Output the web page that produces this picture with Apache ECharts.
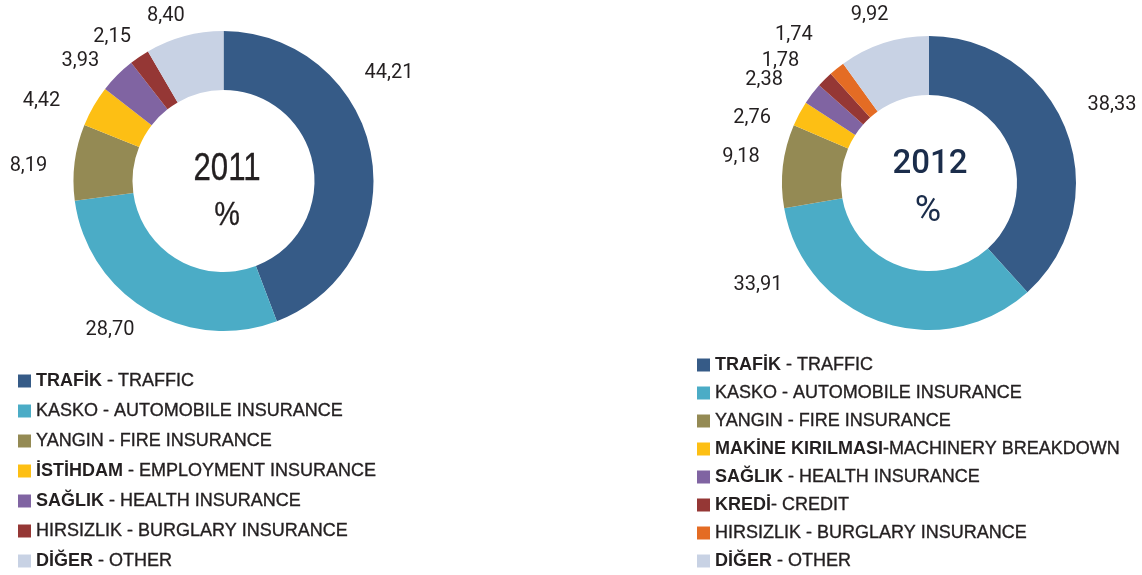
<!DOCTYPE html>
<html>
<head>
<meta charset="utf-8">
<script src="https://cdn.jsdelivr.net/npm/echarts@6/dist/echarts.min.js"></script>
<style>
html,body{margin:0;padding:0;background:#fff;}
#chart{width:1142px;height:575px;}
</style>
</head>
<body>
<div id="chart"></div>
<script>
// ---- data ----
const YEARS = ['2011', '2012'];

const NAMES_2011 = [
  'TRAFİK - TRAFFIC',
  'KASKO - AUTOMOBILE INSURANCE',
  'YANGIN - FIRE INSURANCE',
  'İSTİHDAM - EMPLOYMENT INSURANCE',
  'SAĞLIK - HEALTH INSURANCE',
  'HIRSIZLIK - BURGLARY INSURANCE',
  'DİĞER - OTHER'
];
const BOLD_2011 = ['TRAFİK', '', '', 'İSTİHDAM', 'SAĞLIK', '', 'DİĞER'];
const VALUES_2011 = [44.21, 28.70, 8.19, 4.42, 3.93, 2.15, 8.40];

const NAMES_2012 = [
  'TRAFİK - TRAFFIC',
  'KASKO - AUTOMOBILE INSURANCE',
  'YANGIN - FIRE INSURANCE',
  'MAKİNE KIRILMASI-MACHINERY BREAKDOWN',
  'SAĞLIK - HEALTH INSURANCE',
  'KREDİ- CREDIT',
  'HIRSIZLIK - BURGLARY INSURANCE',
  'DİĞER - OTHER'
];
const BOLD_2012 = ['TRAFİK', '', '', 'MAKİNE KIRILMASI', 'SAĞLIK', 'KREDİ', '', 'DİĞER'];
const VALUES_2012 = [38.33, 33.91, 9.18, 2.76, 2.38, 1.78, 1.74, 9.92];

// ---- styles ----
const COLORS_2011 = ['#365b87', '#4bacc6', '#948a54', '#fdbf14', '#8064a2', '#953735', '#c8d2e4'];
const COLORS_2012 = ['#365b87', '#4bacc6', '#948a54', '#fdbf14', '#8064a2', '#953735', '#e46c24', '#c8d2e4'];

const PIE_CENTER = [[223.5, 181], [929, 183]];
const PIE_RADIUS = [[91, 150], [88, 147]];
// label placement: angular tweak from slice middle (deg) and distance from centre (px)
const LABEL_ADJ = [[-22.7, 6.5, -2.9, -6.2, -5, -3.6, -4.1],
                   [-2.1, 40.2, 1.3, -7.8, -5.3, -5.4, -3.5, -1.6]];
const LABEL_DIST = [[197.6, 187.3, 195.6, 198.8, 186.7, 182, 175.2],
                    [199, 199, 189.8, 188.6, 194.5, 192.2, 200.7, 178.2]];

const TXT = '#231f20';
const LEGEND_FONT = "'Liberation Sans', Arial, sans-serif";

const ALL_VALUES = [VALUES_2011, VALUES_2012];

function labelPos(s, i) {
  const vals = ALL_VALUES[s];
  const total = vals.reduce((a, b) => a + b, 0);
  let cum = 0;
  for (let k = 0; k < i; k++) cum += vals[k];
  const mid = (cum + vals[i] / 2) / total * 360 + LABEL_ADJ[s][i];
  const r = mid * Math.PI / 180;
  const c = PIE_CENTER[s];
  return [c[0] + LABEL_DIST[s][i] * Math.sin(r), c[1] - LABEL_DIST[s][i] * Math.cos(r)];
}

function buildData(names, values, colors) {
  return names.map((n, i) => ({ name: n, value: values[i], itemStyle: { color: colors[i] } }));
}

function legendFormatter(names, bolds) {
  return function (name) {
    const i = names.indexOf(name);
    const b = bolds[i];
    if (b) return '{b|' + b + '}{r|' + name.slice(b.length) + '}';
    return '{r|' + name + '}';
  };
}

function makeLegend(names, colors, bolds, left, top, gap) {
  return {
    orient: 'vertical',
    left: left,
    top: top,
    padding: 0,
    itemWidth: 13,
    itemHeight: 13,
    itemGap: gap,
    icon: 'rect',
    selectedMode: false,
    data: names.map((n, i) => ({ name: n, itemStyle: { color: colors[i] } })),
    formatter: legendFormatter(names, bolds),
    textStyle: {
      fontSize: 18,
      lineHeight: 20,
      fontFamily: LEGEND_FONT,
      color: TXT,
      rich: {
        b: { fontFamily: LEGEND_FONT, fontWeight: 'bold', fontSize: 18, color: TXT, lineHeight: 20 },
        r: { fontFamily: LEGEND_FONT, fontWeight: 'normal', fontSize: 18, color: TXT, lineHeight: 20,
             textBorderColor: TXT, textBorderWidth: 0.35 }
      }
    }
  };
}

function makePie(s, names, values, colors) {
  return {
    type: 'pie',
    center: PIE_CENTER[s],
    radius: PIE_RADIUS[s],
    startAngle: 90,
    clockwise: true,
    avoidLabelOverlap: false,
    silent: true,
    data: buildData(names, values, colors),
    label: {
      show: true,
      position: 'outside',
      fontFamily: 'Roboto',
      fontSize: 20,
      color: TXT,
      formatter: p => p.value.toFixed(2).replace('.', ',')
    },
    labelLine: { show: false },
    labelLayout: function (params) {
      const p = labelPos(s, params.dataIndex);
      return { x: p[0], y: p[1], align: 'center', verticalAlign: 'middle' };
    },
    emphasis: { disabled: true }
  };
}

const chart = echarts.init(document.getElementById('chart'), null, { renderer: 'canvas' });
chart.setOption({
  backgroundColor: '#ffffff',
  animation: false,
  legend: [
    makeLegend(NAMES_2011, COLORS_2011, BOLD_2011, 18, 371, 10),
    makeLegend(NAMES_2012, COLORS_2012, BOLD_2012, 697, 355, 8)
  ],
  graphic: [
    { type: 'text', x: 227, y: 169, scaleX: 0.8, style: { text: YEARS[0], align: 'center', verticalAlign: 'middle', fontFamily: "'Liberation Sans', sans-serif", fontSize: 39, fill: TXT, stroke: TXT, lineWidth: 0.35 } },
    { type: 'text', x: 227, y: 216, scaleX: 0.85, style: { text: '%', align: 'center', verticalAlign: 'middle', fontFamily: "'Liberation Sans', sans-serif", fontSize: 34, fill: TXT, stroke: TXT, lineWidth: 0.3 } },
    { type: 'text', x: 930, y: 165, style: { text: YEARS[1], align: 'center', verticalAlign: 'middle', fontFamily: 'Roboto', fontWeight: 500, fontSize: 33, fill: '#1b2d4b' } },
    { type: 'text', x: 928, y: 212, style: { text: '%', align: 'center', verticalAlign: 'middle', fontFamily: 'Roboto', fontSize: 36, fill: '#1b2d4b' } }
  ],
  series: [
    makePie(0, NAMES_2011, VALUES_2011, COLORS_2011),
    makePie(1, NAMES_2012, VALUES_2012, COLORS_2012)
  ]
});
</script>
</body>
</html>
